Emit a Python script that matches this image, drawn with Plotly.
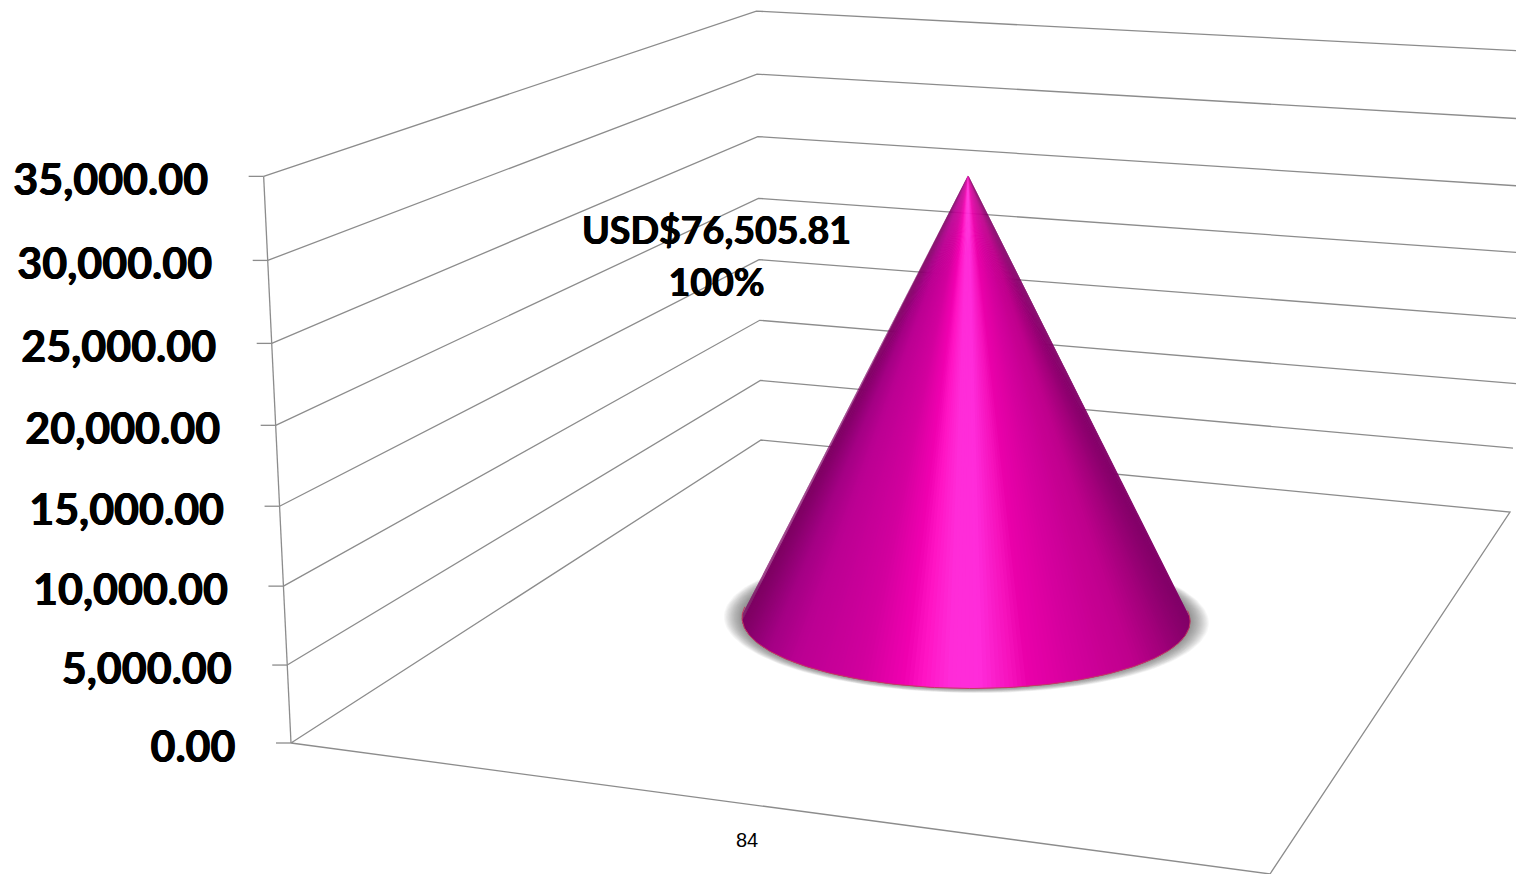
import numpy as np
import plotly.graph_objects as go

# ---- chart data ----
categories = ["84"]
axis_values = [0, 5000, 10000, 15000, 20000, 25000, 30000, 35000]
tick_labels = ["0.00", "5,000.00", "10,000.00", "15,000.00", "20,000.00",
               "25,000.00", "30,000.00", "35,000.00"]
series_values = [30450]
data_label_lines = ["USD$76,505.81", "100%"]
axis_max = 35000

# ---- view calibration: where the chart box falls on the page ----
W, H = 1516, 874
floor_uv = [((0, 0), (291, 743)), ((1, 0), (1270, 874)), ((1, 1), (1510, 512)), ((0, 1), (761, 440))]
top_uv = [((0, 0), (264, 177)), ((0, 1), (756, 12)), ((1, 1), (1532, 50))]


def build_projection():
    A, b = [], []
    for (X, Y), (u, v) in floor_uv:
        A.append([X, Y, 1, 0, 0, 0, -u * X, -u * Y]); b.append(u)
        A.append([0, 0, 0, X, Y, 1, -v * X, -v * Y]); b.append(v)
    h = np.linalg.solve(np.array(A, float), np.array(b, float))
    Hm = np.array([[h[0], h[1], h[2]], [h[3], h[4], h[5]], [h[6], h[7], 1.0]])
    A, b = [], []
    for (X, Y), (u, v) in top_uv:
        p = Hm @ np.array([X, Y, 1.0])
        A.append([1, 0, -u]); b.append(u * p[2] - p[0])
        A.append([0, 1, -v]); b.append(v * p[2] - p[1])
    c = np.linalg.lstsq(np.array(A, float), np.array(b, float), rcond=None)[0]
    return np.column_stack([Hm[:, 0], Hm[:, 1], c, Hm[:, 2]])


P = build_projection()


def project(X, Y, value):
    q = P @ np.array([X, Y, value / axis_max, 1.0])
    return q[0] / q[2], q[1] / q[2]


def poly(points):
    uv = [project(*p) for p in points]
    return [a for a, _ in uv], [b for _, b in uv]


fig = go.Figure()
LINE = dict(color="#8c8c8c", width=1.3)


def add_line(xs, ys, line=LINE):
    fig.add_trace(go.Scatter(x=xs, y=ys, mode="lines", line=line, hoverinfo="skip"))


# walls
for v in axis_values[1:]:
    add_line(*poly([(0, 0, v), (0, 1, v), (1, 1, v)]))
# floor
add_line(*poly([(0, 0, 0), (1, 0, 0), (1, 1, 0), (0, 1, 0), (0, 0, 0)]))
# value axis and tick marks
add_line(*poly([(0, 0, 0), (0, 0, axis_max)]))
for v in axis_values:
    x, y = project(0, 0, v)
    add_line([x - 15, x], [y, y])

# shadow
RX, RY = 0.25, 0.2
center = (0.4995, 0.5)
ang = np.linspace(0, 2 * np.pi, 181)
for k in np.linspace(1.085, 1.0, 18):
    ky = 1 + (k - 1) * 0.65
    xs, ys = poly([(center[0] + RX * k * np.cos(a), center[1] + RY * ky * np.sin(a), 0) for a in ang])
    fig.add_trace(go.Scatter(x=xs, y=ys, mode="lines", fill="toself", line=dict(width=0),
                             fillcolor="rgba(70,70,70,0.045)", hoverinfo="skip"))

# cone shading, by position across the cone (-1 left edge, +1 right edge)
stops_t = [-1.0, -0.95, -0.88, -0.76, -0.46, -0.28, -0.19, -0.07, 0.06, 0.21, 0.28, 0.51, 0.75, 0.87, 1.0]
stops_rgb = [(125, 0, 98), (142, 0, 114), (164, 0, 132), (186, 0, 146), (210, 0, 158), (240, 0, 176),
             (255, 20, 196), (255, 44, 216), (255, 44, 218), (245, 16, 186), (234, 0, 170), (210, 0, 156),
             (190, 0, 140), (164, 0, 124), (130, 0, 104)]


def shade(t):
    return "rgb(%d,%d,%d)" % tuple(int(round(np.interp(t, stops_t, [c[i] for c in stops_rgb]))) for i in range(3))


apex = (center[0], center[1], series_values[0])
base = lambda a: (center[0] + RX * np.cos(a), center[1] + RY * np.sin(a), 0)
# visible arc of the base circle: between the two tangent lines seen from the apex
ax_px, ay_px = project(*apex)
scan = np.linspace(0, 2 * np.pi, 1441)[:-1]
pts = np.array([project(*base(a)) for a in scan])
slope = (pts[:, 0] - ax_px) / (pts[:, 1] - ay_px)
a_left, a_right = scan[slope.argmin()], scan[slope.argmax()]
if a_right < a_left:
    a_right += 2 * np.pi
ts = np.linspace(a_left, a_right, 181)
if project(*base(ts[90]))[1] < project(*base(a_left))[1]:  # took the back arc: go the other way
    ts = np.linspace(a_left, a_right - 2 * np.pi, 181)
bx = np.array([project(*base(a))[0] for a in ts])
xmin, xmax = bx.min(), bx.max()
for i in range(len(ts) - 1):
    j = min(i + 2, len(ts) - 1)
    xs, ys = poly([apex] + [base(a) for a in ts[i:j + 1]] + [apex])
    t = 2 * ((bx[i] + bx[i + 1]) / 2 - xmin) / (xmax - xmin) - 1
    col = shade(t)
    fig.add_trace(go.Scatter(x=xs, y=ys, mode="lines", fill="toself", fillcolor=col,
                             line=dict(width=0), hoverinfo="skip"))
xs, ys = poly([base(a) for a in ts])
add_line(xs, ys, dict(color="#c23a62", width=1))


def add_text(x, y, s, pos, size, family="Lato", bold=True, color="#000000"):
    label = "<b>%s</b>" % s if bold else s
    font = dict(family=family, size=size, color=color)
    if bold:
        font["shadow"] = "0.5px 0 0 #000, -0.5px 0 0 #000"
    fig.add_trace(go.Scatter(x=[x], y=[y], mode="text", text=[label], textposition=pos,
                             textfont=font, hoverinfo="skip"))


for v, s in zip(axis_values, tick_labels):
    x, y = project(0, 0, v)
    add_text(x - 55.5, y + 8, s, "middle left", 43)

add_text(716.5, 235, data_label_lines[0], "middle center", 37.6)
add_text(716.5, 287, data_label_lines[1], "middle center", 37.6)
add_text(747, 841.5, categories[0], "middle center", 20, family="Liberation Sans", bold=False)

fig.update_layout(
    width=W, height=H, autosize=False, margin=dict(l=0, r=0, t=0, b=0, pad=0),
    paper_bgcolor="white", plot_bgcolor="white", showlegend=False, hovermode=False,
    xaxis=dict(range=[0, W], visible=False, fixedrange=True),
    yaxis=dict(range=[H, 0], visible=False, fixedrange=True),
)
fig.write_html("out.html", config={"displayModeBar": False},
               post_script="document.body.style.margin='0';")
